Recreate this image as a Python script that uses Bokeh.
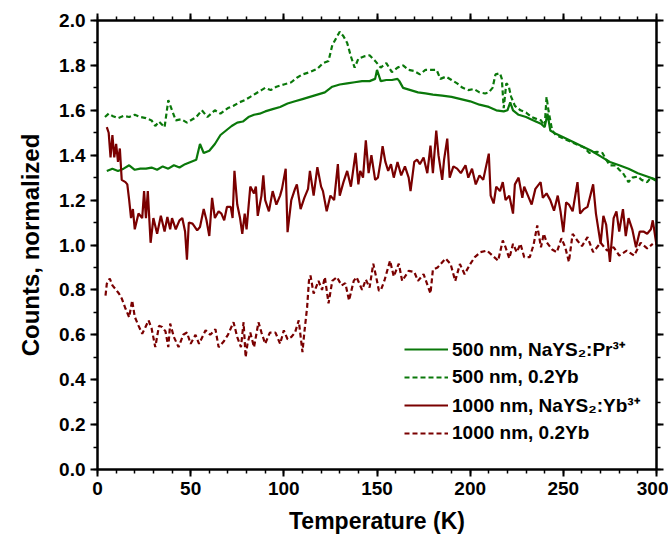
from bokeh.plotting import figure
from bokeh.models import (LinearAxis, FixedTicker, Range1d, Legend, LegendItem,
                          PrintfTickFormatter)
from bokeh.embed import file_html
from bokeh.resources import INLINE

# ---------------- data ----------------
x_ticks = [0, 50, 100, 150, 200, 250, 300]
y_ticks = [0.0, 0.2, 0.4, 0.6, 0.8, 1.0, 1.2, 1.4, 1.6, 1.8, 2.0]

series_names = ["500 nm, NaYS\u2082:Pr\u00b3\u207a", "500 nm, 0.2Yb",
                "1000 nm, NaYS\u2082:Yb\u00b3\u207a", "1000 nm, 0.2Yb"]

g_solid_T = [5, 8, 11, 14, 17, 20, 23, 26, 29, 32, 35, 38, 41, 44, 47, 50, 53, 55, 57, 60,
             63, 66, 69, 72, 75, 78, 81, 84, 87, 90, 94, 98, 102, 106, 110, 114, 118, 122,
             126, 130, 134, 138, 142, 146, 149, 150, 152, 155, 158, 161, 162, 164, 168, 172,
             176, 180, 185, 190, 195, 200, 205, 210, 214, 218, 220, 221.5, 223, 226, 230,
             234, 238, 240, 241.5, 243, 246, 250, 255, 260, 265, 270, 275, 280, 285, 290,
             295, 300]
g_solid_v = [1.33, 1.34, 1.33, 1.34, 1.355, 1.335, 1.34, 1.34, 1.345, 1.335, 1.35, 1.34,
             1.355, 1.345, 1.36, 1.37, 1.38, 1.45, 1.41, 1.42, 1.45, 1.49, 1.51, 1.53, 1.545,
             1.55, 1.57, 1.58, 1.585, 1.595, 1.605, 1.615, 1.63, 1.64, 1.65, 1.66, 1.67,
             1.68, 1.705, 1.715, 1.72, 1.725, 1.73, 1.73, 1.74, 1.78, 1.73, 1.735, 1.735,
             1.74, 1.73, 1.70, 1.69, 1.68, 1.675, 1.67, 1.665, 1.66, 1.65, 1.64, 1.625,
             1.615, 1.60, 1.595, 1.60, 1.635, 1.60, 1.58, 1.57, 1.555, 1.54, 1.525, 1.585,
             1.51, 1.495, 1.48, 1.46, 1.44, 1.42, 1.395, 1.37, 1.355, 1.34, 1.32, 1.305, 1.29]

g_dash_T = [4, 6, 8, 11, 14, 17, 20, 23, 26, 29, 31, 33, 36, 38, 40, 42, 45, 48, 51, 53, 56,
            59, 63, 66, 70, 73, 76, 79, 82, 85, 88, 90, 93, 96, 100, 104, 107, 110, 114, 118,
            121, 124, 126, 128, 130, 132, 134, 136, 138, 140, 143, 146, 149, 152, 155, 158,
            161, 164, 167, 170, 173, 176, 179, 182, 184, 187, 190, 193, 196, 199, 202, 205,
            208, 210, 212, 213.6, 216, 217, 218, 219.4, 220.6, 222, 224, 227, 230, 233, 236,
            238, 240, 241, 242, 244, 246, 250, 254, 258, 261, 264, 268, 271, 273, 275, 278,
            280, 282, 285, 287, 290, 292, 295, 297, 300]
g_dash_v = [1.57, 1.585, 1.575, 1.565, 1.575, 1.57, 1.58, 1.57, 1.565, 1.555, 1.53, 1.55,
            1.525, 1.645, 1.60, 1.555, 1.56, 1.545, 1.56, 1.57, 1.60, 1.57, 1.60, 1.585, 1.61,
            1.62, 1.635, 1.645, 1.66, 1.675, 1.69, 1.70, 1.69, 1.705, 1.715, 1.725, 1.745,
            1.76, 1.77, 1.785, 1.81, 1.82, 1.89, 1.92, 1.95, 1.93, 1.90, 1.84, 1.79, 1.83,
            1.84, 1.845, 1.82, 1.79, 1.81, 1.77, 1.79, 1.80, 1.78, 1.775, 1.76, 1.78, 1.78,
            1.78, 1.74, 1.75, 1.735, 1.72, 1.70, 1.69, 1.695, 1.68, 1.675, 1.68, 1.70, 1.76,
            1.765, 1.74, 1.61, 1.72, 1.71, 1.66, 1.62, 1.60, 1.59, 1.57, 1.56, 1.555, 1.53,
            1.66, 1.60, 1.51, 1.49, 1.475, 1.46, 1.445, 1.435, 1.41, 1.415, 1.41, 1.38, 1.355,
            1.355, 1.335, 1.32, 1.28, 1.30, 1.305, 1.29, 1.28, 1.30, 1.285]

r_solid_T = [5, 6, 7, 8, 9, 10, 11, 12, 13, 15, 16, 17, 18, 19, 20, 22, 24, 25, 26, 27,
             28.5, 30, 32, 34, 36, 37.5, 39, 40, 42, 44, 45.5, 47, 48, 49, 51, 53.5, 55, 57,
             58.5, 60, 61.5, 63, 65, 66.5, 68, 69.5, 71.5, 72.5, 73.5, 75, 76.5, 77.7, 79,
             80, 82, 84, 85, 86, 88, 89, 90, 92, 94, 96, 98, 99, 101, 102, 104, 106, 107,
             109, 111, 113, 114, 116, 118, 120, 121, 123, 125, 127, 129, 130, 132, 134, 136,
             138.5, 140, 141, 142.5, 144, 145.5, 147, 149, 150.5, 152, 153, 154.5, 156,
             157.5, 159, 161, 163, 165, 167, 168, 170, 171.5, 173, 175, 177, 178.7, 180,
             181.8, 183, 185, 186, 187.7, 189, 191, 193, 195, 197.5, 199, 201, 203, 205,
             207, 210, 211, 212.6, 214, 216, 217.5, 219, 221, 223, 224, 226, 228, 229, 231,
             233, 235, 237.8, 239, 241, 243, 245, 247, 248.5, 250, 251.5, 253, 255, 257.6,
             259, 261, 263, 266, 267.5, 270, 271.5, 273, 275, 277, 278.5, 280, 282, 283.5,
             285, 287, 289, 291, 293, 295, 297, 298, 300]
r_solid_v = [1.525, 1.50, 1.39, 1.49, 1.39, 1.45, 1.37, 1.43, 1.29, 1.28, 1.27, 1.20, 1.12,
             1.16, 1.07, 1.14, 1.12, 1.24, 1.12, 1.24, 1.01, 1.12, 1.05, 1.13, 1.06, 1.125,
             1.07, 1.12, 1.07, 1.11, 1.12, 1.06, 0.935, 1.10, 1.095, 1.065, 1.08, 1.16, 1.11,
             1.04, 1.21, 1.12, 1.15, 1.14, 1.11, 1.17, 1.17, 1.12, 1.33, 1.18, 1.12, 1.05,
             1.14, 1.07, 1.26, 1.23, 1.26, 1.13, 1.22, 1.31, 1.20, 1.15, 1.24, 1.18, 1.22,
             1.25, 1.34, 1.057, 1.20, 1.25, 1.27, 1.16, 1.21, 1.25, 1.33, 1.22, 1.347, 1.26,
             1.24, 1.15, 1.22, 1.20, 1.36, 1.22, 1.28, 1.33, 1.26, 1.41, 1.27, 1.33, 1.30,
             1.466, 1.32, 1.40, 1.29, 1.30, 1.376, 1.44, 1.37, 1.33, 1.36, 1.30, 1.37, 1.31,
             1.35, 1.30, 1.24, 1.37, 1.38, 1.36, 1.39, 1.32, 1.443, 1.32, 1.51, 1.40, 1.29,
             1.38, 1.474, 1.30, 1.35, 1.34, 1.32, 1.355, 1.30, 1.34, 1.27, 1.31, 1.29, 1.407,
             1.22, 1.185, 1.26, 1.24, 1.28, 1.20, 1.22, 1.14, 1.27, 1.30, 1.21, 1.26, 1.22,
             1.18, 1.25, 1.28, 1.21, 1.23, 1.20, 1.153, 1.22, 1.15, 1.057, 1.19, 1.18, 1.15,
             1.28, 1.14, 1.16, 1.17, 1.27, 1.14, 1.006, 1.13, 1.09, 0.925, 1.12, 1.15, 1.06,
             1.16, 1.04, 1.12, 1.07, 0.99, 1.06, 1.06, 1.05, 1.07, 1.11, 1.00]

r_dash_T = [4.3, 5, 6.6, 8, 10, 11.5, 13, 15, 17, 18.6, 20, 22, 24, 25.5, 27.4, 29, 31, 33,
            34.7, 36.5, 38, 39, 41, 43.5, 46, 48, 50, 52.6, 54.5, 58, 60.5, 63.3, 65, 67.7,
            70, 73, 75, 77, 78.4, 79.5, 80.5, 82, 84, 86.4, 88, 90, 92.5, 95.5, 98, 100, 102,
            104, 106, 108, 110, 111, 112.5, 113.5, 114.3, 116, 118.6, 120.5, 122, 124, 126,
            128.5, 131, 133, 135, 137.5, 139, 142, 144, 146, 148, 150, 151, 152, 154, 157,
            159, 161.7, 163.5, 167, 170, 172, 175, 178.7, 180, 182.5, 186.8, 189.5, 192,
            194.5, 197, 200, 202.5, 205.5, 209, 212, 215, 217.5, 219, 221, 223, 225, 227,
            229, 232, 234, 236, 238, 239.5, 241, 244, 246.5, 249, 251, 253, 255, 257.5, 260,
            263, 266, 270, 273.5, 277, 280, 284, 288, 291.5, 295, 298]
r_dash_v = [0.775, 0.828, 0.85, 0.82, 0.80, 0.784, 0.762, 0.717, 0.678, 0.753, 0.68, 0.641,
            0.605, 0.63, 0.664, 0.63, 0.545, 0.64, 0.635, 0.615, 0.545, 0.65, 0.59, 0.545,
            0.60, 0.61, 0.56, 0.60, 0.56, 0.62, 0.60, 0.625, 0.545, 0.57, 0.60, 0.656, 0.59,
            0.545, 0.656, 0.50, 0.56, 0.61, 0.545, 0.656, 0.61, 0.56, 0.61, 0.61, 0.56, 0.62,
            0.58, 0.59, 0.61, 0.664, 0.523, 0.61, 0.723, 0.842, 0.864, 0.784, 0.84, 0.80,
            0.857, 0.74, 0.84, 0.857, 0.82, 0.83, 0.753, 0.84, 0.857, 0.80, 0.846, 0.81,
            0.917, 0.84, 0.797, 0.797, 0.842, 0.93, 0.86, 0.917, 0.84, 0.885, 0.88, 0.84,
            0.87, 0.784, 0.89, 0.90, 0.94, 0.915, 0.84, 0.915, 0.87, 0.915, 0.946, 0.968,
            0.975, 0.953, 0.93, 1.02, 0.99, 0.94, 1.005, 0.968, 1.005, 0.946, 0.946, 1.00,
            1.087, 0.99, 1.05, 1.013, 0.98, 0.968, 1.03, 0.99, 0.925, 1.05, 1.02, 0.995,
            1.035, 0.968, 1.01, 0.975, 0.99, 0.953, 0.975, 0.953, 1.01, 0.985, 1.005]

GREEN = "#0a780a"
RED = "#7a0000"
FONT = "Liberation Sans"

p = figure(frame_width=559, frame_height=449, output_backend="svg", toolbar_location=None,
           x_range=Range1d(0, 300), y_range=Range1d(0, 2.0),
           min_border_left=97, min_border_right=12, min_border_top=20, min_border_bottom=66)
p.xgrid.visible = False
p.ygrid.visible = False
p.outline_line_color = "black"
p.outline_line_width = 2
p.background_fill_color = "white"
p.border_fill_color = "white"

x_minor = list(range(0, 301, 10))
y_minor = [i / 10 for i in range(0, 21)]


def style(ax, show_labels, title_size="23px"):
    ax.axis_line_width = 2
    ax.major_tick_line_width = 2
    ax.minor_tick_line_width = 1.5
    ax.major_tick_in = 0
    ax.major_tick_out = 7
    ax.minor_tick_in = 0
    ax.minor_tick_out = 4
    if show_labels:
        ax.major_label_text_font = FONT
        ax.major_label_text_font_style = "bold"
        ax.major_label_text_font_size = "19px"
        ax.major_label_text_color = "black"
        ax.axis_label_text_font = FONT
        ax.axis_label_text_font_style = "bold"
        ax.axis_label_text_font_size = title_size
        ax.axis_label_text_color = "black"
    else:
        ax.major_label_standoff = 0


xa = p.xaxis[0]
xa.ticker = FixedTicker(ticks=x_ticks, minor_ticks=x_minor)
xa.axis_label = "Temperature (K)"
xa.major_label_standoff = 5
xa.axis_label_standoff = 10
style(xa, True, "23px")

ya = p.yaxis[0]
ya.ticker = FixedTicker(ticks=y_ticks, minor_ticks=y_minor)
ya.formatter = PrintfTickFormatter(format="%.1f")
ya.axis_label = "Counts, normalized"
ya.major_label_standoff = 5
ya.axis_label_standoff = 12
style(ya, True, "24px")

top = LinearAxis(ticker=FixedTicker(ticks=x_ticks, minor_ticks=x_minor),
                 major_label_overrides={t: "" for t in x_ticks})
style(top, False)
p.add_layout(top, "above")
right = LinearAxis(ticker=FixedTicker(ticks=y_ticks, minor_ticks=y_minor),
                   major_label_overrides={t: "" for t in y_ticks})
style(right, False)
p.add_layout(right, "right")

r1 = p.line(g_solid_T, g_solid_v, line_color=GREEN, line_width=2.2)
r2 = p.line(g_dash_T, g_dash_v, line_color=GREEN, line_width=2.2, line_dash="5 3")
r3 = p.line(r_solid_T, r_solid_v, line_color=RED, line_width=2.2)
r4 = p.line(r_dash_T, r_dash_v, line_color=RED, line_width=2.2, line_dash="5 3")

legend = Legend(items=[LegendItem(label=series_names[0], renderers=[r1]),
                       LegendItem(label=series_names[1], renderers=[r2]),
                       LegendItem(label=series_names[2], renderers=[r3]),
                       LegendItem(label=series_names[3], renderers=[r4])],
                location=(307, 25))
legend.background_fill_alpha = 0
legend.border_line_color = None
legend.padding = 0
legend.margin = 0
legend.spacing = 4
legend.glyph_width = 44
legend.glyph_height = 20
legend.label_height = 20
legend.label_standoff = 4
legend.label_text_font = FONT
legend.label_text_font_style = "bold"
legend.label_text_font_size = "19px"
legend.label_text_color = "black"
legend.label_text_baseline = "middle"
p.add_layout(legend, "center")

open("out.html", "w").write(file_html(p, INLINE))
